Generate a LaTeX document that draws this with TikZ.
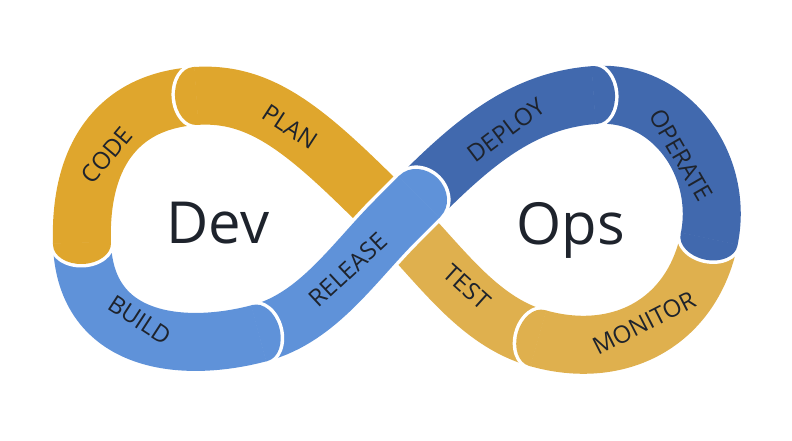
\documentclass[tikz,border=0pt]{standalone}
\usepackage{fontspec}
\setmainfont{Open Sans}
\definecolor{goldA}{HTML}{DFA62D}
\definecolor{goldB}{HTML}{DFB04E}
\definecolor{blueD}{HTML}{4169AE}
\definecolor{blueL}{HTML}{5F92D9}
\definecolor{ink}{HTML}{1E232C}
\newcommand{\capat}[4]{%
  \begin{scope}[shift={(#1)}, rotate=#2]
    \fill[white] (-1,-32.5) -- (0,-32.5) arc[start angle=-90, end angle=90, x radius=#4+3.5, y radius=32.5] -- (-1,32.5) -- cycle;
    \fill[#3] (-1.5,-29) -- (0,-29) arc[start angle=-90, end angle=90, x radius=#4, y radius=29] -- (-1.5,29) -- cycle;
  \end{scope}}
\tikzset{
  band/.style={line width=58, line cap=butt},
  lbl/.style={text=ink, font=\fontsize{24}{24}\selectfont, inner sep=0pt},
  big/.style={text=ink, font=\fontsize{58}{58}\selectfont, inner sep=0pt, anchor=base}
}
\begin{document}
\begin{tikzpicture}[x=1pt,y=1pt]
\useasboundingbox (0,0) rectangle (792,440);
\coordinate (C) at (396,220);
\coordinate (P1) at (195,344);
\coordinate (P2) at (82,196);
\coordinate (P3) at (260,107);
\coordinate (E) at (420,244);
\coordinate (P4) at (595,345);
\coordinate (P5) at (709,200);
\coordinate (P6) at (537,102);
% bodies
\draw[band, goldA] (C) .. controls +(135:120) and +(4:70) .. (P1);
\draw[band, goldA] (P1) .. controls +(184:80) and +(92:85) .. (P2);
\draw[band, blueL] (P2) .. controls +(272:100) and +(195:80) .. (P3);
\draw[band, blueD] (E) .. controls +(45:80) and +(184:70) .. (P4);
\draw[band, blueD] (P4) .. controls +(4:76) and +(78:76) .. (P5);
\draw[band, goldB] (P5) .. controls +(258:85) and +(344:85) .. (P6);
\draw[band, goldB] (P6) .. controls +(164:62) and +(315:62) .. (C);
% release over the crossing
\draw[band, white, line width=65] (P3) .. controls +(15:60) and +(225:60) .. (C) -- (E);
\draw[band, blueL] (P3) .. controls +(15:60) and +(225:60) .. (C) -- (E);
% caps
\capat{P1}{184}{goldA}{20}
\capat{P2}{272}{goldA}{20}
\capat{P3}{15}{blueL}{20}
\capat{E}{45}{blueL}{25}
\capat{P4}{4}{blueD}{20}
\capat{P5}{258}{blueD}{20}
\capat{P6}{164}{goldB}{20}
% labels
\node[lbl, rotate=50] (code) at (107,285) {CODE};
\node[lbl, rotate=-33] (plan) at (290,313) {PLAN};
\node[lbl, rotate=-33] (build) at (140,120) {BUILD};
\node[lbl, rotate=43] (release) at (348,170) {RELEASE};
\node[lbl, rotate=37] (deploy) at (506,310) {DEPLOY};
\node[lbl, rotate=-60] (operate) at (681,285) {OPERATE};
\node[lbl, rotate=-42] (test) at (467,153) {TEST};
\node[lbl, rotate=27] (monitor) at (644,117) {MONITOR};
\node[big] (dev) at (218,197) {Dev};
\node[big] (ops) at (571,196) {Ops};
\end{tikzpicture}
\end{document}
